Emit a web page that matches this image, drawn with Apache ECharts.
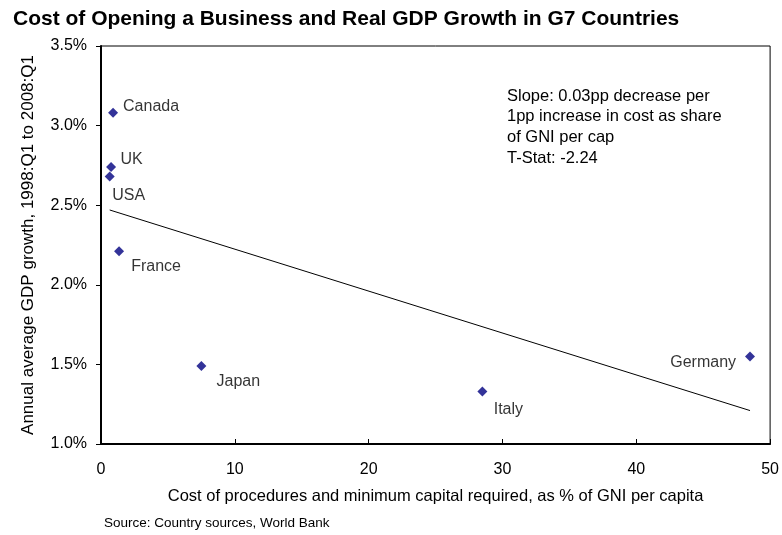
<!DOCTYPE html>
<html>
<head>
<meta charset="utf-8">
<script src="https://cdn.jsdelivr.net/npm/echarts@6/dist/echarts.min.js"></script>
<style>
  html, body { margin: 0; padding: 0; background: #fff; }
  #chart { width: 782px; height: 535px; }
</style>
</head>
<body>
<div id="chart"></div>
<script>
// Countries and their values
const countries = ['Canada', 'UK', 'USA', 'France', 'Japan', 'Italy', 'Germany'];
const costShare = [0.9, 0.75, 0.65, 1.35, 7.5, 28.5, 48.5];      // % of GNI per capita
const gdpGrowth = [3.08, 2.74, 2.68, 2.21, 1.49, 1.33, 1.55];     // annual avg %
// Fitted regression line end points
const fitX = [0.65, 48.5];
const fitY = [2.47, 1.21];
const xTicks = [0, 10, 20, 30, 40, 50];
const yTicks = [1.0, 1.5, 2.0, 2.5, 3.0, 3.5];
const noteLines = [
  'Slope: 0.03pp decrease per',
  '1pp increase in cost as share',
  'of GNI per cap',
  'T-Stat: -2.24'
];

const FONT = '"Liberation Sans", Arial, sans-serif';

// Label placement for each country
const labelStyle = {
  Canada:  { position: 'right',  distance: 5,   offset: [0, -6] },
  UK:      { position: 'right',  distance: 4.5, offset: [0, -7] },
  USA:     { position: 'bottom', distance: 5,   offset: [19, 1] },
  France:  { position: 'bottom', distance: 5,   offset: [37, -3] },
  Japan:   { position: 'bottom', distance: 5,   offset: [37, -2] },
  Italy:   { position: 'bottom', distance: 5,   offset: [26, 0] },
  Germany: { position: 'left',   distance: 9,   offset: [0, 6] }
};

const points = countries.map((c, i) => ({
  name: c,
  value: [costShare[i], gdpGrowth[i]],
  label: Object.assign({ show: true, formatter: c }, labelStyle[c])
}));

const chart = echarts.init(document.getElementById('chart'));
chart.setOption({
  backgroundColor: '#fff',
  animation: false,
  textStyle: { fontFamily: FONT },
  title: {
    text: 'Cost of Opening a Business and Real GDP Growth in G7 Countries',
    left: 8, top: 4,
    textStyle: { fontFamily: FONT, fontSize: 21, fontWeight: 'bold', color: '#000' }
  },
  grid: {
    left: 101, right: 11, top: 46, bottom: 91,
    show: true, borderColor: '#000', borderWidth: 1, backgroundColor: '#fff'
  },
  xAxis: {
    type: 'value',
    min: xTicks[0], max: xTicks[xTicks.length - 1], interval: 10,
    name: 'Cost of procedures and minimum capital required, as % of GNI per capita',
    nameLocation: 'middle', nameGap: 44,
    nameTextStyle: { fontFamily: FONT, fontSize: 16.5, color: '#000' },
    axisLine: { show: true, lineStyle: { color: '#000', width: 2 } },
    axisTick: { show: true, inside: true, length: 5, lineStyle: { color: '#000' } },
    axisLabel: { fontFamily: FONT, fontSize: 16, color: '#000', margin: 18 },
    splitLine: { show: false }
  },
  yAxis: {
    type: 'value',
    min: yTicks[0], max: yTicks[yTicks.length - 1], interval: 0.5,
    name: 'Annual average GDP growth, 1998:Q1 to 2008:Q1',
    nameLocation: 'middle', nameGap: 64,
    nameTextStyle: { fontFamily: FONT, fontSize: 17, color: '#000' },
    axisLine: { show: true, lineStyle: { color: '#000', width: 2 } },
    axisTick: { show: true, inside: false, length: 5, lineStyle: { color: '#000' } },
    axisLabel: {
      fontFamily: FONT, fontSize: 16, color: '#000', margin: 14,
      formatter: v => v.toFixed(1) + '%'
    },
    splitLine: { show: false }
  },
  series: [
    {
      type: 'line',
      data: fitX.map((x, i) => [x, fitY[i]]),
      symbol: 'none',
      lineStyle: { color: '#000', width: 1 },
      silent: true,
      z: 2
    },
    {
      type: 'scatter',
      data: points,
      symbol: 'diamond',
      symbolSize: 10,
      itemStyle: { color: '#000080' },
      label: { fontFamily: FONT, fontSize: 16, color: '#000' },
      z: 3
    }
  ],
  graphic: [
    {
      type: 'text',
      left: 507, top: 85.6,
      style: {
        text: noteLines.join('\n'),
        font: '16.5px ' + FONT,
        lineHeight: 20.8,
        fill: '#000'
      }
    },
    {
      type: 'text',
      left: 104, top: 516,
      style: {
        text: 'Source: Country sources, World Bank',
        font: '13.5px ' + FONT,
        fill: '#000'
      }
    }
  ]
});
</script>
</body>
</html>
